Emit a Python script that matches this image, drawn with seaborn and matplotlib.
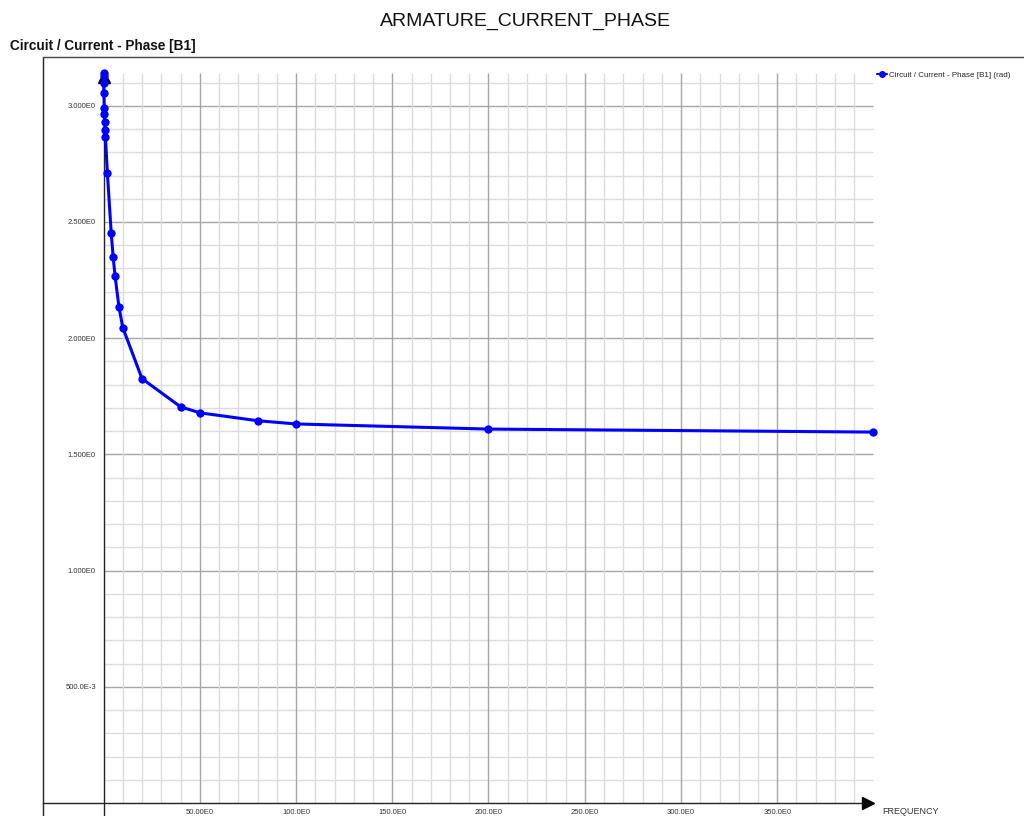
import numpy as np
import pandas as pd
import matplotlib
matplotlib.use("Agg")
import matplotlib.pyplot as plt
from matplotlib.lines import Line2D
import seaborn as sns

# ---- data ----
frequency = [0.01, 0.05, 0.1, 0.2, 0.4, 0.5, 0.6, 0.8, 1.0, 2, 4, 5, 6, 8, 10,
             20, 40, 50, 80, 100, 200, 400]
phase = [3.142, 3.128, 3.099, 3.054, 2.989, 2.965, 2.932, 2.896, 2.867, 2.712,
         2.454, 2.351, 2.268, 2.136, 2.046, 1.826, 1.705, 1.679, 1.645, 1.631,
         1.609, 1.596]
series_name = "Circuit / Current - Phase [B1] (rad)"
x_major = [50, 100, 150, 200, 250, 300, 350]
x_major_labels = ["50.00E0", "100.0E0", "150.0E0", "200.0E0", "250.0E0", "300.0E0", "350.0E0"]
y_major = [0.5, 1.0, 1.5, 2.0, 2.5, 3.0]
y_major_labels = ["500.0E-3", "1.000E0", "1.500E0", "2.000E0", "2.500E0", "3.000E0"]

df = pd.DataFrame({"FREQUENCY": frequency, "phase": phase, "series": series_name})

sns.set_theme(style="white")
plt.rcParams["font.family"] = ["Liberation Sans", "DejaVu Sans"]

W, H = 1024, 816
fig = plt.figure(figsize=(W / 100, H / 100), dpi=100)

# pixel geometry
x0_px, x_per = 103.5, 1.925
y0_px, y_per = 803.0, 232.4
ax_l, ax_r, ax_t, ax_b = 43, 1024, 57, 816
ax = fig.add_axes([ax_l / W, 1 - ax_b / H, (ax_r - ax_l) / W, (ax_b - ax_t) / H])
xlim = ((ax_l - x0_px) / x_per, (ax_r - x0_px) / x_per)
ylim = ((y0_px - ax_b) / y_per, (y0_px - ax_t) / y_per)
ax.set_xlim(*xlim)
ax.set_ylim(*ylim)

ytop = 3.142
xend = 400

# grid
y_minor = np.round(np.arange(0.1, 3.15, 0.1), 3)
x_minor = np.arange(10, 400, 10)
for yv in y_minor:
    major = abs(yv * 2 - round(yv * 2)) < 1e-6
    ax.hlines(yv, 0, xend, colors="#a6a6a6" if major else "#dcdcdc", lw=1, zorder=1)
for xv in x_minor:
    major = xv % 50 == 0
    ax.vlines(xv, 0, ytop, colors="#a6a6a6" if major else "#dcdcdc", lw=1, zorder=1)

# axes lines through origin
for s in ["right", "top", "left", "bottom"]:
    ax.spines[s].set_visible(False)
ax.spines["left"].set_visible(True)
ax.spines["bottom"].set_visible(True)
ax.spines["left"].set_position(("data", 0))
ax.spines["bottom"].set_position(("data", 0))
ax.spines["left"].set_color("#222222")
ax.spines["bottom"].set_color("#222222")
ax.spines["left"].set_linewidth(1)
ax.spines["bottom"].set_linewidth(1)
ax.spines["left"].set_bounds(ylim[0], ytop)
ax.spines["bottom"].set_bounds(xlim[0], 396)

ax.set_xticks(x_major)
ax.set_xticklabels(x_major_labels)
ax.set_xticks(x_minor, minor=True)
ax.set_yticks(y_major)
ax.set_yticklabels(y_major_labels)
ax.set_yticks(y_minor, minor=True)
ax.tick_params(axis="both", which="both", direction="out", length=4.5, width=1,
               color="#bbbbbb", labelsize=5.5, labelcolor="#333333", pad=1)
ax.tick_params(axis="x", which="both", length=4, pad=0.5)

# arrows
ax.plot([397], [0], marker=">", color="black", markersize=8, clip_on=False, zorder=5)
ax.plot([0], [3.125], marker="^", color="black", markersize=8, clip_on=False, zorder=5)

# data line
sns.lineplot(data=df, x="FREQUENCY", y="phase", hue="series", palette=["#0000ff"],
             marker="o", markersize=6, markeredgewidth=0, linewidth=2.2,
             ax=ax, zorder=6, clip_on=False, sort=False)
ax.set_xlabel("")
ax.set_ylabel("")

leg = ax.legend(loc="upper left", bbox_to_anchor=((877 - ax_l) / (ax_r - ax_l), 1 - (71 - ax_t) / (ax_b - ax_t)),
                frameon=False, fontsize=5.8, handlelength=1.2, handletextpad=0.3,
                borderaxespad=0, borderpad=0)
for h in leg.legend_handles:
    h.set_markersize(5)
    h.set_linewidth(1.5)

# frame
fig.add_artist(Line2D([ax_l / W, ax_l / W], [0, 1 - ax_t / H], color="#222222", lw=1))
fig.add_artist(Line2D([ax_l / W, 1], [1 - ax_t / H, 1 - ax_t / H], color="#444444", lw=1))

# texts
fig.text(525 / W, 1 - 21 / H, "ARMATURE_CURRENT_PHASE", ha="center", va="center",
         fontsize=14, color="#111111")
fig.text(10 / W, 1 - 46 / H, "Circuit / Current - Phase [B1]", ha="left", va="center",
         fontsize=9.8, color="#111111", fontweight="bold")
fig.text(882 / W, 1 - 811 / H, "FREQUENCY", ha="left", va="center", fontsize=6.5,
         color="#333333")

fig.savefig("out.png", dpi=100)
